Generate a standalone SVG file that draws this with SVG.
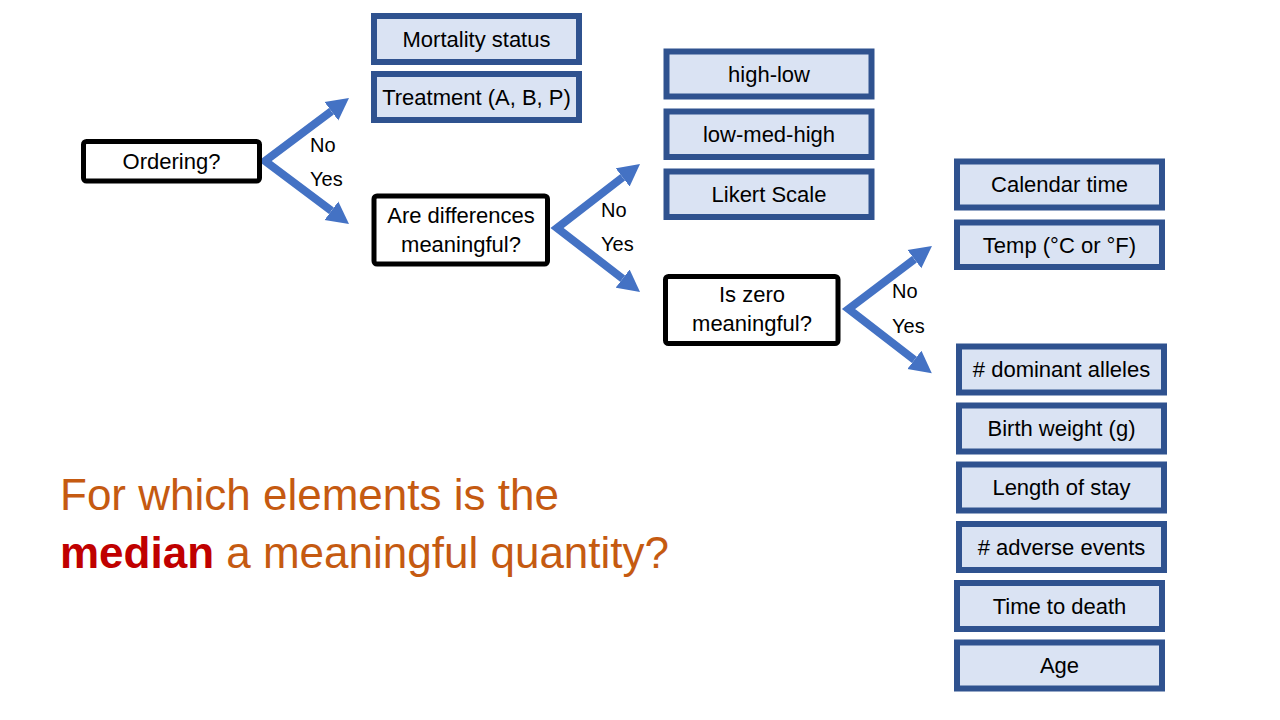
<svg xmlns="http://www.w3.org/2000/svg" width="1280" height="720" viewBox="0 0 1280 720">
<defs>
<style>
.bb{fill:#DAE3F3;stroke:#2F528F;stroke-width:6}
.kb{fill:#FFFFFF;stroke:#000000;stroke-width:5}
.t{font-family:"Liberation Sans",Arial,sans-serif;font-size:22px;fill:#000;text-anchor:middle}
.lab{font-family:"Liberation Sans",Arial,sans-serif;font-size:20px;fill:#000}
.conn{fill:none;stroke:#4472C4;stroke-width:8;stroke-linejoin:miter;stroke-miterlimit:10;marker-start:url(#ahs);marker-end:url(#ah)}
.title{font-family:"Liberation Sans",Arial,sans-serif;font-size:44px;fill:#C55A11}
</style>
<marker id="ah" markerUnits="userSpaceOnUse" viewBox="0 -12 24 24" markerWidth="24" markerHeight="24" refX="0" refY="0" orient="auto">
<path d="M0,-11.5 L22,0 L0,11.5 Z" fill="#4472C4"/>
</marker>
<marker id="ahs" markerUnits="userSpaceOnUse" viewBox="0 -12 24 24" markerWidth="24" markerHeight="24" refX="0" refY="0" orient="auto-start-reverse">
<path d="M0,-11.5 L22,0 L0,11.5 Z" fill="#4472C4"/>
</marker>
</defs>
<rect width="1280" height="720" fill="#FFFFFF"/>

<g id="connectors">
<path class="conn" d="M331.4,111.2 L265,161 L331.4,210.8"/>
<path class="conn" d="M622.6,177.4 L557,228 L622.6,278.6"/>
<path class="conn" d="M914.4,259.2 L848.5,309 L914.4,359.8"/>
<text class="lab" x="310" y="152">No</text>
<text class="lab" x="310" y="186">Yes</text>
<text class="lab" x="601" y="217">No</text>
<text class="lab" x="601" y="251">Yes</text>
<text class="lab" x="892" y="298">No</text>
<text class="lab" x="892" y="333">Yes</text>
</g>

<g id="ordering">
<rect class="kb" x="83.5" y="141.5" width="176" height="39.5" rx="3"/>
<text class="t" x="171.5" y="169">Ordering?</text>
</g>
<g id="differences">
<rect class="kb" x="374" y="196" width="173.5" height="68" rx="3"/>
<text class="t" x="461" y="223">Are differences</text>
<text class="t" x="461" y="252">meaningful?</text>
</g>
<g id="zero">
<rect class="kb" x="665.5" y="276.5" width="172.5" height="67" rx="3"/>
<text class="t" x="752" y="302">Is zero</text>
<text class="t" x="752" y="331">meaningful?</text>
</g>

<g id="mortality">
<rect class="bb" x="374" y="16" width="205" height="46"/>
<text class="t" x="476.5" y="47">Mortality status</text>
</g>
<g id="treatment">
<rect class="bb" x="374" y="74" width="205" height="46"/>
<text class="t" x="476.5" y="105">Treatment (A, B, P)</text>
</g>

<g id="highlow">
<rect class="bb" x="666.5" y="51.5" width="205" height="45"/>
<text class="t" x="769" y="82">high-low</text>
</g>
<g id="lowmedhigh">
<rect class="bb" x="666.5" y="111.5" width="205" height="45.5"/>
<text class="t" x="769" y="142">low-med-high</text>
</g>
<g id="likert">
<rect class="bb" x="666.5" y="171.5" width="205" height="45.5"/>
<text class="t" x="769" y="202">Likert Scale</text>
</g>

<g id="calendar">
<rect class="bb" x="957" y="161.5" width="205" height="46"/>
<text class="t" x="1059.5" y="192">Calendar time</text>
</g>
<g id="temp">
<rect class="bb" x="957" y="222.5" width="205" height="44.5"/>
<text class="t" x="1059.5" y="252.5">Temp (°C or °F)</text>
</g>

<g id="alleles">
<rect class="bb" x="959" y="346.5" width="205" height="46"/>
<text class="t" x="1061.5" y="377">#&#160;dominant alleles</text>
</g>
<g id="birthweight">
<rect class="bb" x="959" y="405.5" width="205" height="46"/>
<text class="t" x="1061.5" y="436">Birth weight (g)</text>
</g>
<g id="lengthstay">
<rect class="bb" x="959" y="464.5" width="205" height="46"/>
<text class="t" x="1061.5" y="495">Length of stay</text>
</g>
<g id="adverse">
<rect class="bb" x="959" y="524" width="205" height="46"/>
<text class="t" x="1061.5" y="554.5">#&#160;adverse events</text>
</g>
<g id="timedeath">
<rect class="bb" x="957" y="583" width="205" height="46"/>
<text class="t" x="1059.5" y="613.5">Time to death</text>
</g>
<g id="age">
<rect class="bb" x="957" y="642.5" width="205" height="46"/>
<text class="t" x="1059.5" y="673">Age</text>
</g>

<g id="question">
<text class="title" x="60" y="510">For which elements is the</text>
<text class="title" x="60" y="568"><tspan font-weight="bold" fill="#C00000">median</tspan> a meaningful quantity?</text>
</g>
</svg>
